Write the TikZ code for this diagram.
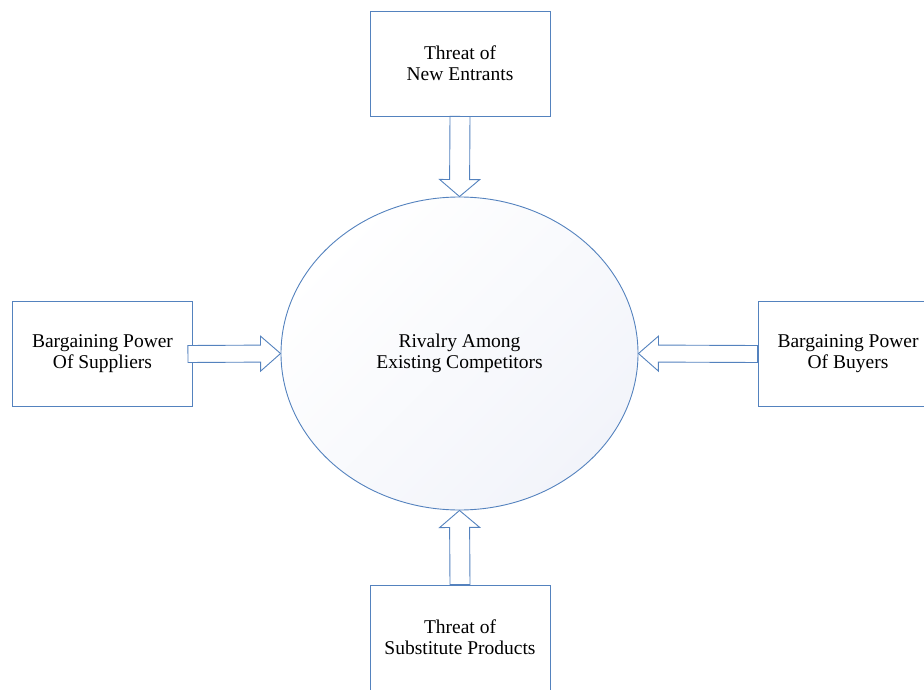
\documentclass[tikz,border=0pt]{standalone}
\usepackage{fontspec}
\setmainfont{Liberation Serif}
\usetikzlibrary{shapes.geometric,calc}

\definecolor{forceblue}{RGB}{84,130,190}
\definecolor{rivalfill}{RGB}{242,244,250}

\tikzset{
  force/.style={draw=forceblue, line width=0.9pt, fill=white, align=center,
    minimum width=180pt, minimum height=105pt, inner sep=0pt},
  rival/.style={ellipse, draw=forceblue, line width=0.9pt, align=center,
    top color=white, bottom color=rivalfill, shading angle=45,
    minimum width=357pt, minimum height=313pt, inner sep=0pt},
  forcearrow/.style={draw=forceblue, line width=0.9pt, fill=white, line join=miter}
}

% hollow block arrow: from, to, shaft half-width, head half-width, head length
\newcommand{\forcearrow}[5]{%
  \coordinate (arrowhead) at ($(#2)!#5!(#1)$);
  \draw[forcearrow] ($(#1)!#3!90:(#2)$) -- ($(arrowhead)!#3!90:(#2)$)
    -- ($(arrowhead)!#4!90:(#2)$) -- (#2) -- ($(arrowhead)!#4!-90:(#2)$)
    -- ($(arrowhead)!#3!-90:(#2)$) -- ($(#1)!#3!-90:(#2)$) -- cycle;
}

\begin{document}
\begin{tikzpicture}[x=1pt, y=-1pt, font=\fontsize{19.5}{21}\selectfont]
\clip (0,0) rectangle (924,690);

\node[rival] (rivalry) at (459.5,353.5) {Rivalry Among\\Existing Competitors};

\node[force] (entrants) at (460,63.5) {Threat of\\New Entrants};
\node[force] (suppliers) at (102.5,354) {Bargaining Power\\Of Suppliers};
\node[force] (buyers) at (848,354) {Bargaining Power\\Of Buyers};
\node[force] (substitutes) at (460,637.5) {Threat of\\Substitute Products};

\coordinate (suppliers out) at ([xshift=-5pt]suppliers.east);

\forcearrow{entrants.south}{rivalry.north}{10pt}{20pt}{17pt}
\forcearrow{substitutes.north}{rivalry.south}{10pt}{20pt}{17pt}
\forcearrow{suppliers out}{rivalry.west}{8.5pt}{17.5pt}{20pt}
\forcearrow{buyers.west}{rivalry.east}{8.5pt}{17.5pt}{20pt}
\end{tikzpicture}
\end{document}
